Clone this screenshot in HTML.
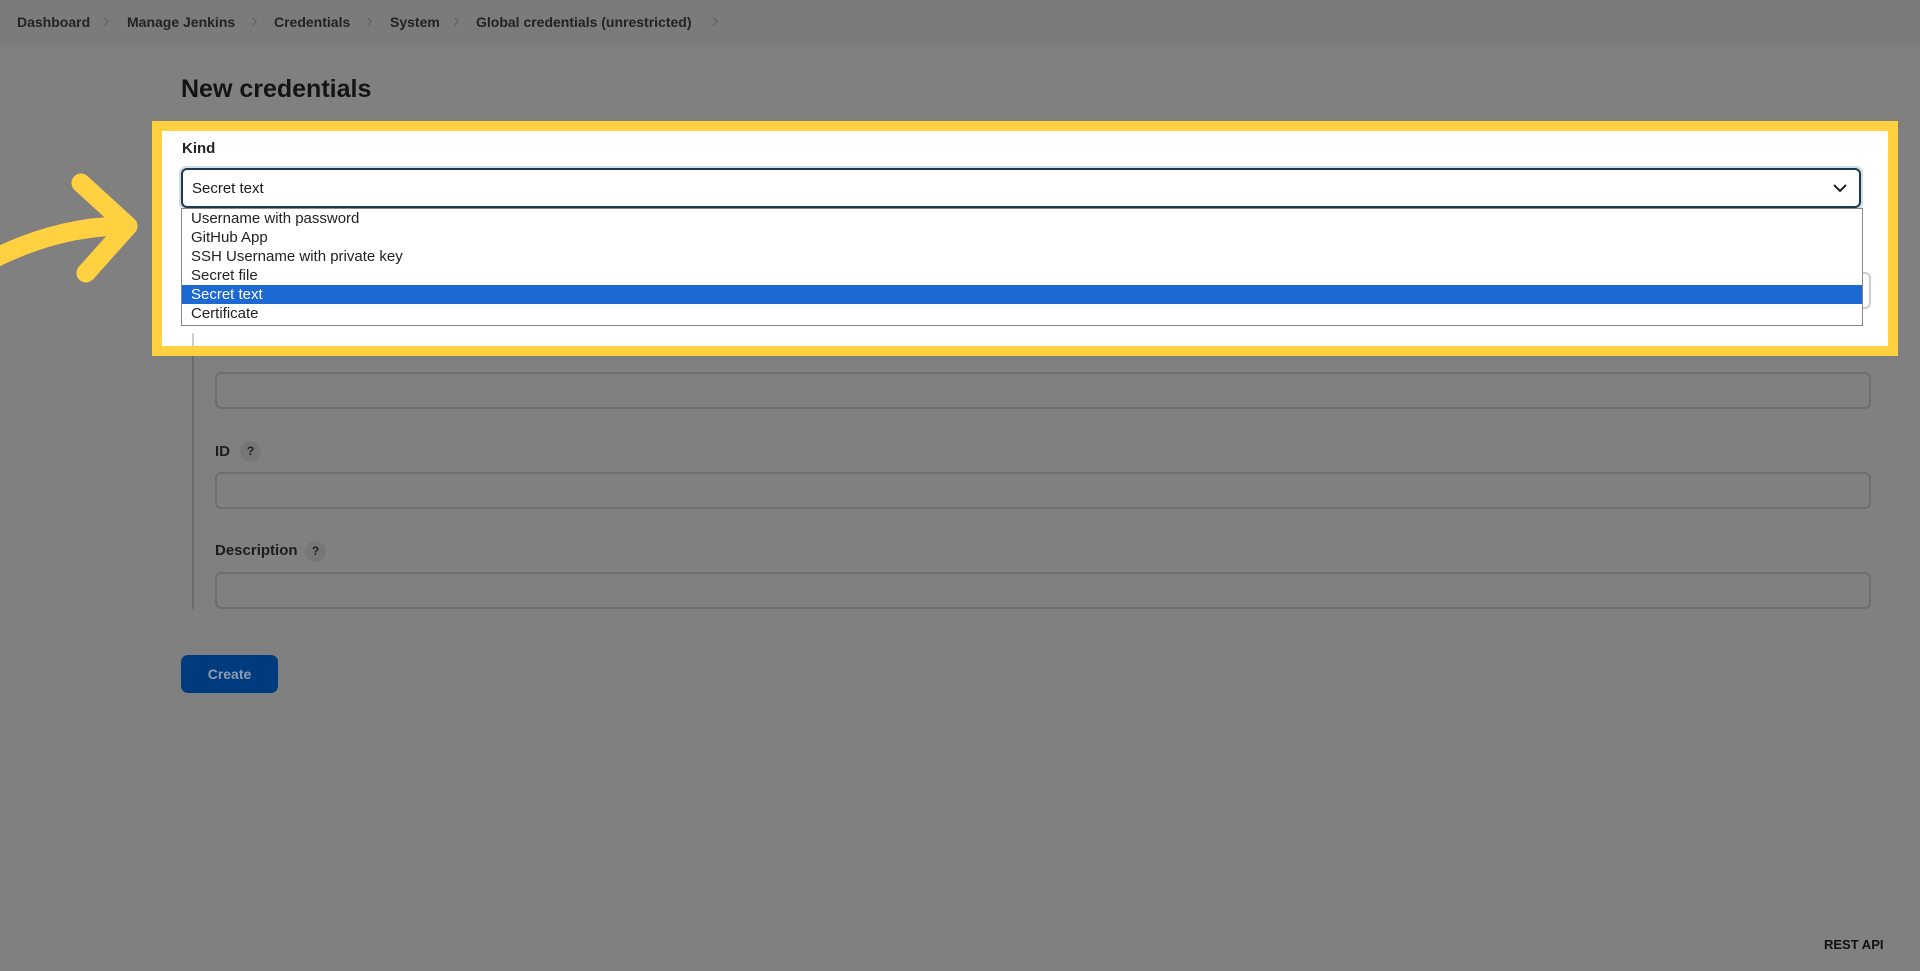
<!DOCTYPE html>
<html><head><meta charset="utf-8"><style>
*{margin:0;padding:0;box-sizing:border-box}
body{width:1920px;height:971px;background:#808080;font-family:"Liberation Sans",sans-serif;position:relative;overflow:hidden;color:#1a1a1a}
.bc{position:absolute;left:0;top:0;width:1920px;height:47px;background:#7b7b7b;}
.bc span{position:absolute;top:14px;font-size:14px;font-weight:bold;color:#222}
.bc i{position:absolute;top:10px;font-style:normal;color:#666;font-size:20px}
.abs{position:absolute}
.inp{position:absolute;left:215px;width:1656px;height:37px;border:2px solid #6e6e6e;border-radius:6px;background:#808080}
.lbl{position:absolute;left:215px;font-size:15px;font-weight:bold;color:#1c1c1c}
.q{position:absolute;width:21px;height:21px;border-radius:50%;background:#777;color:#222;font-size:12px;font-weight:bold;text-align:center;line-height:21px}
.opt{position:absolute;left:0;width:100%;height:19px;font-size:15px;line-height:19px;padding-left:9px;color:#222}
</style></head><body>
<div class="bc">
<span style="left:17px">Dashboard</span><i style="left:103px">›</i>
<span style="left:127px">Manage Jenkins</span><i style="left:251px">›</i>
<span style="left:274px">Credentials</span><i style="left:366px">›</i>
<span style="left:390px">System</span><i style="left:453px">›</i>
<span style="left:476px">Global credentials (unrestricted)</span><i style="left:712px">›</i>
</div>
<div class="abs" style="left:181px;top:75px;font-size:25px;font-weight:bold;color:#141414">New credentials</div>

<div class="abs" style="left:192px;top:325px;width:2px;height:284px;background:#6a6a6a"></div>
<div class="lbl" style="top:343px">Secret</div>
<div class="inp" style="top:372px"></div>
<div class="lbl" style="top:443px">ID</div><div class="q" style="left:240px;top:441px">?</div>
<div class="inp" style="top:472px"></div>
<div class="lbl" style="top:542px">Description</div><div class="q" style="left:305px;top:541px">?</div>
<div class="inp" style="top:572px"></div>
<div class="abs" style="left:181px;top:655px;width:97px;height:38px;border-radius:7px;background:#003c7d;color:#8b9db5;font-size:14px;font-weight:bold;text-align:center;line-height:38px">Create</div>
<div class="abs" style="left:1824px;top:937px;font-size:13px;font-weight:bold;color:#111">REST API</div>

<!-- highlight -->
<div class="abs" style="left:152px;top:121px;width:1746px;height:235px;border:10px solid #ffd141;background:#fff;overflow:hidden">
  <div class="abs" style="left:20px;top:9px;font-size:15px;font-weight:bold;color:#222">Kind</div>
  <div class="abs" style="left:30px;top:202px;width:2px;height:30px;background:#ccc"></div>
  <div class="abs" style="left:1680px;top:141px;width:29px;height:37px;border:2px solid #ccc;border-radius:6px"></div>
  <div class="abs" style="left:17px;top:35px;width:1684px;height:44px;border:3px solid #cfe0ea;border-radius:7px"></div>
  <div class="abs" style="left:19px;top:37px;width:1680px;height:40px;border:2px solid #1d3a4c;border-radius:6px;font-size:15px;line-height:37px;padding-left:9px">Secret text
    <svg class="abs" style="right:12px;top:13px" width="14" height="10" viewBox="0 0 14 10"><path d="M1 2 L7 8 L13 2" stroke="#222" stroke-width="2" fill="none"/></svg></div>
  <div class="abs" style="left:19px;top:77px;width:1682px;height:118px;border:1px solid #888;background:#fff">
    <div class="opt" style="top:0">Username with password</div>
    <div class="opt" style="top:19px">GitHub App</div>
    <div class="opt" style="top:38px">SSH Username with private key</div>
    <div class="opt" style="top:57px">Secret file</div>
    <div class="opt" style="top:76px;background:#1c69d4;color:#fff">Secret text</div>
    <div class="opt" style="top:95px">Certificate</div>
  </div>
</div>

<svg class="abs" style="left:0;top:170px" width="150" height="120" viewBox="0 0 150 120">
<path d="M-5 88 Q60 56 125 56" stroke="#ffd141" stroke-width="19" fill="none" stroke-linecap="round"/>
<path d="M81 13 L128 56 L86 103" stroke="#ffd141" stroke-width="19" fill="none" stroke-linecap="round" stroke-linejoin="round"/>
</svg>
</body></html>
